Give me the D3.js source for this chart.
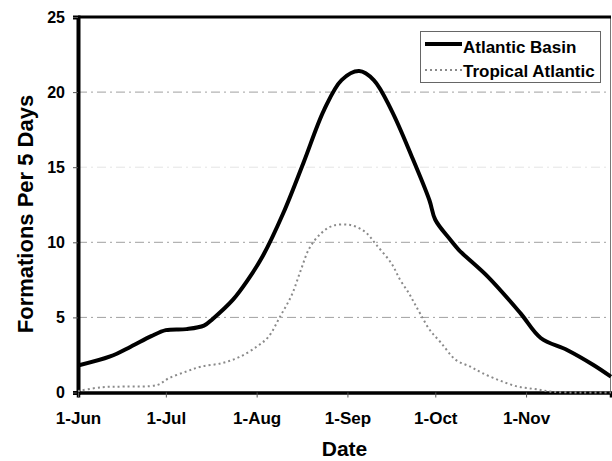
<!DOCTYPE html>
<html>
<head>
<meta charset="utf-8">
<script src="https://cdn.jsdelivr.net/npm/d3@7/dist/d3.min.js"></script>
<style>
  html, body { margin: 0; padding: 0; background: #fff; }
  svg { display: block; font-family: "Liberation Sans", Arial, sans-serif; font-weight: bold; }
</style>
</head>
<body>
<svg id="chart" width="612" height="461"></svg>
<script>
// Seasonal formation rates (per 5-day window), June 1 through November 30
const basinDates = ["06-01","06-12","06-19","06-26","07-01","07-08","07-14","07-17","07-24","07-29",
  "08-03","08-10","08-17","08-24","08-30","09-05","09-10","09-16","09-23","09-29",
  "10-01","10-06","10-09","10-19","10-30","11-06","11-15","11-24","11-30"];
const basinValues = [1.8,2.4,3.05,3.75,4.15,4.22,4.45,4.9,6.2,7.5,
  9.05,11.9,15.3,18.8,20.8,21.4,20.8,18.8,15.7,12.8,
  11.5,10.2,9.5,7.7,5.3,3.63,2.83,1.83,1.05];

const tropicalDates = ["06-01","06-09","06-17","06-28","07-02","07-08","07-13","07-20","07-26",
  "08-01","08-05","08-09","08-13","08-16","08-19","08-23","08-27","09-02","09-07","09-11",
  "09-16","09-19","09-22","09-24","09-26","09-29","10-03","10-08","10-13","10-17","10-23",
  "10-29","11-04","11-10","11-20","11-30"];
const tropicalValues = [0.1,0.35,0.4,0.5,0.95,1.4,1.72,1.95,2.35,
  3.05,3.7,5.05,6.5,8.1,9.6,10.6,11.1,11.15,10.7,9.8,
  8.6,7.5,6.6,5.9,5.2,4.2,3.3,2.17,1.72,1.3,0.8,
  0.4,0.23,0.05,0,0];

const yTicks = [0, 5, 10, 15, 20, 25];
const gridValues = [5, 10, 15, 20];
const monthTicks = ["06-01","07-01","08-01","09-01","10-01","11-01"];
const seriesNames = ["Atlantic Basin", "Tropical Atlantic"];

const parse = d3.timeParse("%Y-%m-%d");
const toDate = s => parse("2001-" + s);

const svg = d3.select("#chart");
const margin = { left: 78, right: 611, top: 17, bottom: 392.5 };

const x = d3.scaleTime()
  .domain([toDate("06-01"), toDate("11-30")])
  .range([margin.left, margin.right]);
const y = d3.scaleLinear()
  .domain([0, 25])
  .range([margin.bottom, margin.top]);

// grid lines
svg.append("g").selectAll("line")
  .data(gridValues)
  .join("line")
  .attr("x1", margin.left).attr("x2", margin.right)
  .attr("y1", d => y(d)).attr("y2", d => y(d))
  .attr("stroke", d => d === 15 ? "#e4e4e4" : "#a0a0a0")
  .attr("stroke-width", 1)
  .attr("stroke-dasharray", "9,4,2,4");

// right frame edge
svg.append("line")
  .attr("x1", margin.right - 0.5).attr("x2", margin.right - 0.5)
  .attr("y1", margin.top).attr("y2", margin.bottom)
  .attr("stroke", "#777").attr("stroke-width", 1);

// top frame edge
svg.append("line")
  .attr("x1", margin.left).attr("x2", margin.right)
  .attr("y1", margin.top).attr("y2", margin.top)
  .attr("stroke", "#000").attr("stroke-width", 3);

// y axis
const yAxis = svg.append("g")
  .attr("transform", `translate(${margin.left},0)`)
  .call(d3.axisLeft(y).tickValues(yTicks).tickSize(5).tickPadding(8).tickFormat(d3.format("d")));
yAxis.select(".domain").attr("stroke", "#000").attr("stroke-width", 4);
yAxis.selectAll(".tick line").attr("stroke", "#555");
yAxis.selectAll(".tick text")
  .attr("font-size", 16).attr("font-weight", "bold")
  .attr("font-family", "Liberation Sans, Arial, sans-serif").attr("fill", "#000");

// x axis
const xAxis = svg.append("g")
  .attr("transform", `translate(0,${margin.bottom})`)
  .call(d3.axisBottom(x).tickValues(monthTicks.map(toDate)).tickSize(5).tickPadding(14)
    .tickFormat(d3.timeFormat("%-d-%b")));
xAxis.select(".domain").attr("stroke", "#000").attr("stroke-width", 3.5);
xAxis.selectAll(".tick line").attr("stroke", "#555");
xAxis.selectAll(".tick text")
  .attr("font-size", 17).attr("font-weight", "bold")
  .attr("font-family", "Liberation Sans, Arial, sans-serif").attr("fill", "#000");

// series lines
const line = d3.line()
  .x(d => x(d.date))
  .y(d => y(Math.max(0, d.value)))
  .curve(d3.curveCatmullRom.alpha(0.5));

const tropical = tropicalDates.map((d, i) => ({ date: toDate(d), value: tropicalValues[i] }));
const basin = basinDates.map((d, i) => ({ date: toDate(d), value: basinValues[i] }));

svg.append("path")
  .datum(tropical)
  .attr("d", line)
  .attr("fill", "none")
  .attr("stroke", "#8a8a8a")
  .attr("stroke-width", 2)
  .attr("stroke-dasharray", "2,3");

svg.append("path")
  .datum(basin)
  .attr("d", line)
  .attr("fill", "none")
  .attr("stroke", "#000")
  .attr("stroke-width", 4)
  .attr("stroke-linejoin", "round");

// axis titles
svg.append("text")
  .attr("x", (margin.left + margin.right) / 2)
  .attr("y", 456)
  .attr("text-anchor", "middle")
  .attr("font-size", 21)
  .text("Date");

svg.append("text")
  .attr("transform", `translate(33,214) rotate(-90)`)
  .attr("text-anchor", "middle")
  .attr("font-size", 22)
  .text("Formations Per 5 Days");

// legend
const legend = svg.append("g");
legend.append("rect")
  .attr("x", 420.5).attr("y", 31.5).attr("width", 180).attr("height", 51)
  .attr("fill", "#fff").attr("stroke", "#666").attr("stroke-width", 1);

const legendRows = [
  { name: seriesNames[0], y: 44, base: 53, stroke: "#000", width: 4, dash: null },
  { name: seriesNames[1], y: 70, base: 77, stroke: "#8a8a8a", width: 2, dash: "2,3" }
];
legendRows.forEach(r => {
  legend.append("line")
    .attr("x1", 425).attr("x2", 462)
    .attr("y1", r.y).attr("y2", r.y)
    .attr("stroke", r.stroke).attr("stroke-width", r.width)
    .attr("stroke-dasharray", r.dash);
  legend.append("text")
    .attr("x", 463).attr("y", r.base)
    .attr("font-size", 17)
    .text(r.name);
});
</script>
</body>
</html>
